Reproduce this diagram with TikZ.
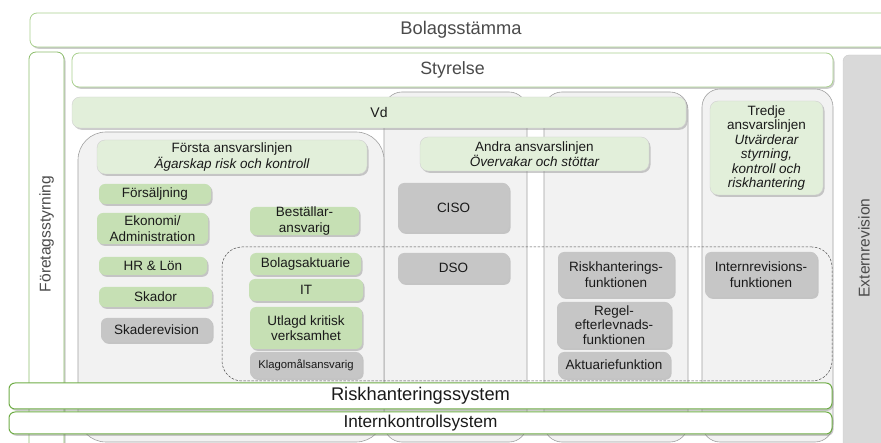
\documentclass[tikz,border=0pt]{standalone}
\usepackage{fontspec}
\setmainfont{Liberation Sans}
\usetikzlibrary{shadows}
\definecolor{colbg}{HTML}{F2F2F2}
\definecolor{colbd}{HTML}{A0A0A0}
\definecolor{headg}{HTML}{E2EFDA}
\definecolor{itemg}{HTML}{C6E0B4}
\definecolor{itemgr}{HTML}{C6C6C6}
\definecolor{outg}{HTML}{70AD47}
\definecolor{outgl}{HTML}{A9D08E}
\definecolor{extg}{HTML}{D9D9D9}
\definecolor{txt}{HTML}{1A1A1A}
\definecolor{txtg}{HTML}{4A4A4A}
\begin{document}
\begin{tikzpicture}[x=1pt,y=-1pt,
  every node/.style={inner sep=0pt, outer sep=0pt, text=txt,
    font=\fontsize{13.5}{15.5}\selectfont},
  rect/.style args={#1/#2/#3/#4}{at={({(#1+#3)/2},{(#2+#4)/2})},
    minimum width={(#3-#1)*1pt}, minimum height={(#4-#2)*1pt}},
  shad/.style={drop shadow={shadow xshift=1.5pt, shadow yshift=-1.8pt, opacity=0.4}},
  outline/.style={draw=outgl, fill=white, rounded corners=7pt, line width=0.8pt, shad},
  strong/.style={draw=outg, fill=white, rounded corners=6pt, line width=1pt, shad},
  colbox/.style={draw=colbd, fill=colbg, rounded corners=22pt, line width=0.6pt},
  headbox/.style={draw=black!18, fill=headg, rounded corners=8pt, line width=0.4pt, shad},
  gitem/.style={fill=itemg, rounded corners=6pt, shad},
  gyitem/.style={fill=itemgr, rounded corners=6pt, shad},
  dashbox/.style={draw=black!70, dashed, dash pattern=on 2.5pt off 1.5pt, line width=0.5pt, rounded corners=20pt},
  extbox/.style={draw=black!20, fill=extg, rounded corners=6pt}
]
\useasboundingbox (0,0) rectangle (881,443);

% top level
\node[outline, rect=30/13/892/47, font=\fontsize{18.3}{21}\selectfont, text=txtg] (bolag) {Bolagsstämma};
\node[outline, draw=outg!80, rect=29/52/64/470] (foretag) {};
\node[rotate=90, font=\fontsize{15.6}{18}\selectfont, text=txtg] (foretagtxt) at (46.5,234) {Företagsstyrning};
\node[extbox, rect=843/55/895/470] (extern) {};
\node[rotate=90, font=\fontsize{15.6}{18}\selectfont, text=txtg] (externtxt) at (864,248) {Externrevision};
\node[outline, rect=72/53/833/87, font=\fontsize{17.8}{21}\selectfont, text=txtg] (styrelse) {Styrelse};

% columns
\node[colbox, rounded corners=18pt, rect=384/92/527/442] (col2) {};
\node[colbox, rounded corners=18pt, rect=544/92/688/442] (col3) {};
\node[colbox, rounded corners=18pt, rect=702/89/833/442] (col4) {};
\node[colbox, rounded corners=28pt, rect=78/132/384/442] (col1) {};

% Vd and line headings
\node[headbox, rect=72/97/686/128, font=\fontsize{14}{16}\selectfont] (vd) {Vd};
\node[headbox, rect=97/140/367/174, align=center] (forsta) {Första ansvarslinjen\\\itshape Ägarskap risk och kontroll};
\node[headbox, rect=420/137/649/171, align=center] (andra) {Andra ansvarslinjen\\\itshape Övervakar och stöttar};
\node[headbox, rect=710/101/823/195, align=center, font=\fontsize{13.5}{14.4}\selectfont] (tredje) {Tredje\\ansvarslinjen\\\itshape Utvärderar\\\itshape styrning,\\\itshape kontroll och\\\itshape riskhantering};

% dashed area
\node[dashbox, rect=222/247/832/381] (outsourced) {};

% first line items
\node[gitem, rect=99/184/211/204] (fors) {Försäljning};
\node[gitem, rect=97/213/208/244, align=center] (ekon) {Ekonomi/\\Administration};
\node[gitem, rect=250/207/359/235, align=center] (best) {Beställar-\\ansvarig};
\node[gitem, rect=99/257/207/275] (hr) {HR \& Lön};
\node[gitem, rect=99/287/212/307] (skador) {Skador};
\node[gyitem, rect=101/318/212/342] (skrev) {Skaderevision};
\node[gitem, rect=250/253/361/275] (bolakt) {Bolagsaktuarie};
\node[gitem, rect=249/279/363/301] (it) {IT};
\node[gitem, rect=250/307/362/349, align=center] (utlagd) {Utlagd kritisk\\verksamhet};
\node[gyitem, rect=250/352/362/378, font=\fontsize{11.3}{13}\selectfont] (klago) {Klagomålsansvarig};

% second line items
\node[gyitem, rect=398/183/509/232] (ciso) {CISO};
\node[gyitem, rect=398/253/509/283] (dso) {DSO};
\node[gyitem, rect=558/252/674/297, align=center] (riskf) {Riskhanterings-\\funktionen};
\node[gyitem, rect=557/302/671/348, align=center, font=\fontsize{13.5}{14.5}\selectfont] (regel) {Regel-\\efterlevnads-\\funktionen};
\node[gyitem, rect=558/352/670/378] (aktf) {Aktuariefunktion};

% third line items
\node[gyitem, rect=705/252/817/297, align=center] (intrev) {Internrevisions-\\funktionen};

% systems
\node[strong, rect=9/383/832/409, font=\fontsize{18.3}{21}\selectfont] (risksys) {Riskhanteringssystem};
\node[strong, rect=9/412/832/434, font=\fontsize{17.2}{20}\selectfont] (iksys) {Internkontrollsystem};
\end{tikzpicture}
\end{document}
